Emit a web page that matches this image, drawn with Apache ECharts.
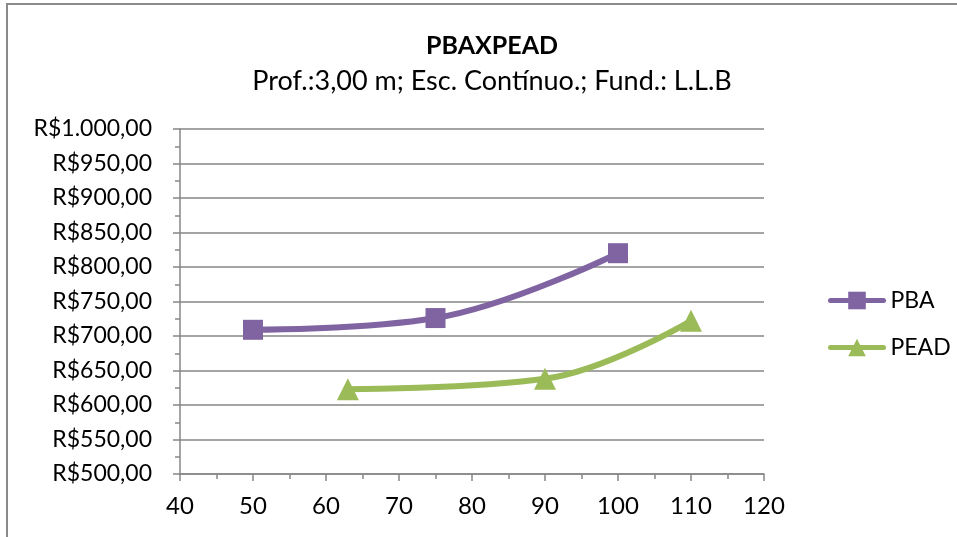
<!DOCTYPE html>
<html>
<head>
<meta charset="utf-8">
<script src="https://cdn.jsdelivr.net/npm/echarts@6/dist/echarts.min.js"></script>
<style>
  html, body { margin: 0; padding: 0; background: #fff; }
  #chart { width: 957px; height: 537px; }
</style>
</head>
<body>
<div id="chart"></div>
<script>
// data
const pbaX = [50, 75, 100];
const pbaY = [709, 726, 820];
const peadX = [63, 90, 110];
const peadY = [623, 638, 722];

const chart = echarts.init(document.getElementById('chart'));

const fontFam = 'Lato, "Open Sans", sans-serif';

function money(v) {
    // R$1.000,00 style
    const s = String(Math.round(v)).replace(/\B(?=(\d{3})+(?!\d))/g, '.');
    return 'R$' + s + ',00';
}

const option = {
    animation: false,
    backgroundColor: '#fff',
    graphic: [
        {
            type: 'rect',
            shape: { x: 7, y: 4, width: 1000, height: 600 },
            style: { fill: 'none', stroke: '#8a8a8a', lineWidth: 2 },
            silent: true
        }
    ],
    title: {
        text: 'PBAXPEAD',
        subtext: 'Prof.:3,00 m; Esc. Contínuo.; Fund.: L.L.B',
        left: 487,
        textAlign: 'center',
        top: 28,
        itemGap: 10,
        textStyle: { fontFamily: fontFam, fontSize: 25, fontWeight: 'bold', color: '#000' },
        subtextStyle: { fontFamily: fontFam, fontSize: 27, color: '#000' }
    },
    legend: {
        orient: 'vertical',
        left: 823,
        top: 284,
        itemWidth: 53,
        itemHeight: 22,
        itemGap: 24,
        lineStyle: { width: 5, cap: 'round' },
        textStyle: { fontFamily: fontFam, fontSize: 23, color: '#000', padding: [0, 0, 0, 2] },
        data: ['PBA', 'PEAD']
    },
    grid: {
        left: 180,
        right: 193,
        top: 129,
        bottom: 63
    },
    xAxis: {
        type: 'value',
        min: 40,
        max: 120,
        interval: 10,
        axisLine: { show: true, lineStyle: { color: '#868686', width: 1.5 } },
        axisTick: { show: true, length: 7, lineStyle: { color: '#868686', width: 1.5 } },
        minorTick: { show: true, splitNumber: 2, length: 5, lineStyle: { color: '#868686', width: 1.5 } },
        splitLine: { show: false },
        axisLabel: { fontFamily: fontFam, fontSize: 24, color: '#000', margin: 20 }
    },
    yAxis: {
        type: 'value',
        min: 500,
        max: 1000,
        interval: 50,
        axisLine: { show: true, lineStyle: { color: '#868686', width: 1.5 } },
        axisTick: { show: true, length: 7, lineStyle: { color: '#868686', width: 1.5 } },
        minorTick: { show: true, splitNumber: 2, length: 5, lineStyle: { color: '#868686', width: 1.5 } },
        splitLine: { show: true, lineStyle: { color: '#868686', width: 1.5 } },
        axisLabel: {
            fontFamily: fontFam, fontSize: 23, color: '#000', margin: 28,
            formatter: money
        }
    },
    series: [
        {
            name: 'PBA',
            type: 'line',
            smooth: 0.4,
            data: pbaX.map((x, i) => [x, pbaY[i]]),
            symbol: 'rect',
            symbolSize: 20,
            color: '#8064A2',
            lineStyle: { width: 6, color: '#8064A2', cap: 'round' },
            itemStyle: { color: '#8064A2' }
        },
        {
            name: 'PEAD',
            type: 'line',
            smooth: 0.4,
            data: peadX.map((x, i) => [x, peadY[i]]),
            symbol: 'triangle',
            symbolSize: 22,
            color: '#9BBB59',
            lineStyle: { width: 6, color: '#9BBB59', cap: 'round' },
            itemStyle: { color: '#9BBB59' }
        }
    ]
};

chart.setOption(option);
</script>
</body>
</html>
